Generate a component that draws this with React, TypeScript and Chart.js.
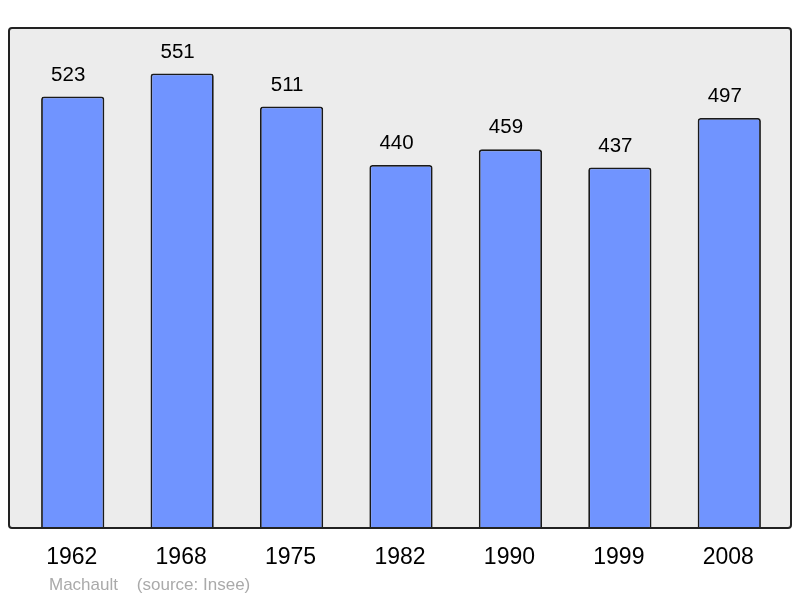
import React, { useEffect, useRef } from "react";
import { Chart, registerables } from "chart.js";

Chart.register(...registerables);

const years = ["1962", "1968", "1975", "1982", "1990", "1999", "2008"];
const population = [523, 551, 511, 440, 459, 437, 497];
const caption = "Machault    (source: Insee)";

const FONT = "'Liberation Sans', Arial, sans-serif";

const framePlugin = {
  id: "frame",
  beforeDatasetsDraw(chart: any) {
    const { ctx } = chart;
    ctx.save();
    ctx.beginPath();
    (ctx as any).roundRect(9, 28, 782, 500, 3);
    ctx.fillStyle = "#ececec";
    ctx.fill();
    ctx.restore();
  },
  afterDatasetsDraw(chart: any) {
    const { ctx } = chart;
    ctx.save();
    ctx.beginPath();
    (ctx as any).roundRect(9, 28, 782, 500, 3);
    ctx.strokeStyle = "#222";
    ctx.lineWidth = 2;
    ctx.stroke();

    const xs = chart.scales.x;
    const ys = chart.scales.y;
    ctx.fillStyle = "#000";
    ctx.textAlign = "center";
    ctx.textBaseline = "middle";
    ctx.font = `20.5px ${FONT}`;
    population.forEach((v, i) => {
      const x = xs.getPixelForValue(i);
      const y = ys.getPixelForValue(v);
      ctx.fillText(String(v), x - 4.5, y - 21.5);
    });
    ctx.font = `23px ${FONT}`;
    years.forEach((yr, i) => {
      const x = xs.getPixelForValue(i);
      ctx.fillText(yr, x - 1, 557.5);
    });
    ctx.textAlign = "left";
    ctx.font = `17px ${FONT}`;
    ctx.fillStyle = "#aaaaaa";
    ctx.fillText(caption, 49, 585);
    ctx.restore();
  },
};

export default function App() {
  const ref = useRef<HTMLCanvasElement>(null);
  useEffect(() => {
    if (!ref.current) return;
    const chart = new Chart(ref.current, {
      type: "bar",
      data: {
        labels: years,
        datasets: [
          {
            data: population,
            backgroundColor: "#7094ff",
            borderColor: "#1a1a1a",
            borderWidth: 1.8,
            borderRadius: 3,
            categoryPercentage: 1,
            barPercentage: 0.578,
          },
        ],
      },
      options: {
        responsive: false,
        animation: false,
        layout: { padding: { left: 18, right: 16, top: 33, bottom: 70 } },
        plugins: { legend: { display: false }, tooltip: { enabled: false } },
        scales: {
          x: { display: false },
          y: { display: false, min: 0, max: 600 },
        },
      },
      plugins: [framePlugin],
    });
    return () => chart.destroy();
  }, []);
  return (
    <canvas
      ref={ref}
      width={800}
      height={598}
      style={{ position: "absolute", left: 0, top: 0, display: "block" }}
    />
  );
}
